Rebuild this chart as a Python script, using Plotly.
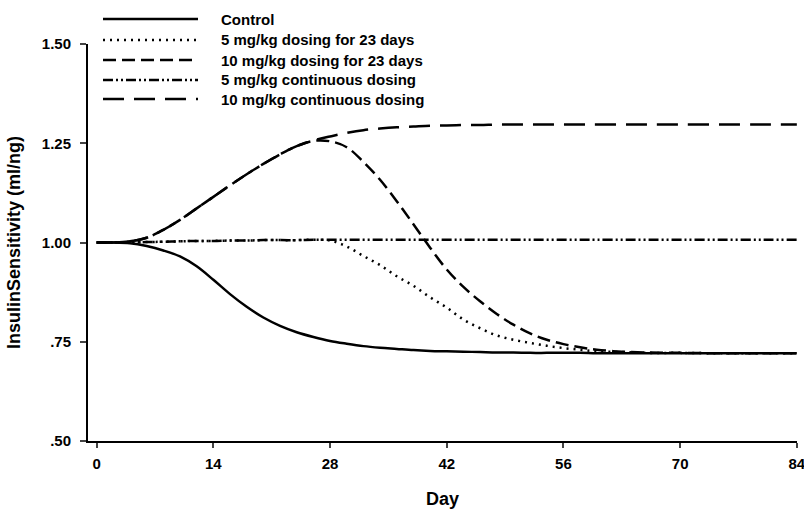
import plotly.graph_objects as go

# ---- data ----
days = [0, 2, 4, 6, 8, 10, 12, 14, 16, 18, 20, 22, 24, 26, 28, 30, 32, 34, 36, 38,
        40, 42, 44, 46, 48, 50, 52, 54, 56, 58, 60, 63, 66, 70, 75, 80, 84]

control = [1.000, 1.000, 0.998, 0.991, 0.980, 0.965, 0.940, 0.906, 0.870, 0.838,
           0.811, 0.790, 0.774, 0.762, 0.752, 0.745, 0.739, 0.735, 0.732, 0.729,
           0.727, 0.726, 0.725, 0.724, 0.723, 0.723, 0.722, 0.722, 0.722, 0.722,
           0.721, 0.721, 0.721, 0.721, 0.721, 0.721, 0.721]

mg5_23d = [1.000, 1.000, 1.000, 1.001, 1.002, 1.003, 1.004, 1.004, 1.005, 1.005,
           1.006, 1.006, 1.006, 1.007, 1.005, 0.990, 0.966, 0.943, 0.915, 0.891,
           0.862, 0.836, 0.806, 0.784, 0.766, 0.755, 0.747, 0.740, 0.734, 0.730,
           0.726, 0.724, 0.722, 0.722, 0.721, 0.721, 0.721]

mg10_23d = [1.000, 1.000, 1.003, 1.012, 1.032, 1.057, 1.086, 1.115, 1.144, 1.172,
            1.198, 1.222, 1.243, 1.256, 1.255, 1.240, 1.203, 1.158, 1.104, 1.046,
            0.987, 0.932, 0.888, 0.852, 0.820, 0.793, 0.771, 0.755, 0.744, 0.736,
            0.730, 0.725, 0.723, 0.722, 0.721, 0.721, 0.721]

mg5_cont = [1.000, 1.000, 1.000, 1.001, 1.002, 1.003, 1.004, 1.004, 1.005, 1.005,
            1.006, 1.006, 1.006, 1.007, 1.007, 1.007, 1.007, 1.007, 1.007, 1.007,
            1.007, 1.007, 1.007, 1.007, 1.007, 1.007, 1.007, 1.007, 1.007, 1.007,
            1.007, 1.007, 1.007, 1.007, 1.007, 1.007, 1.007]

mg10_cont = [1.000, 1.000, 1.003, 1.012, 1.032, 1.057, 1.086, 1.115, 1.144, 1.172,
             1.198, 1.222, 1.243, 1.257, 1.267, 1.276, 1.283, 1.287, 1.290, 1.292,
             1.294, 1.295, 1.296, 1.296, 1.297, 1.297, 1.297, 1.297, 1.297, 1.297,
             1.297, 1.297, 1.297, 1.297, 1.297, 1.297, 1.297]

series_names = ["Control", "5 mg/kg dosing for 23 days", "10 mg/kg dosing for 23 days",
                "5 mg/kg continuous dosing", "10 mg/kg continuous dosing"]
series_values = [control, mg5_23d, mg10_23d, mg5_cont, mg10_cont]

x_ticks = [0, 14, 28, 42, 56, 70, 84]
y_ticks = [0.50, 0.75, 1.00, 1.25, 1.50]
y_tick_labels = [".50", ".75", "1.00", "1.25", "1.50"]

# ---- styles ----
dashes = ["solid", "2px,5px", "13px,6px", "10px,3px,2px,3px,2px,3px", "21px,10px"]
FONT = "Liberation Sans, Arial, sans-serif"

fig = go.Figure()
for name, vals, dash in zip(series_names, series_values, dashes):
    fig.add_trace(go.Scatter(x=days, y=vals, mode="lines", name=name,
                             line=dict(color="black", width=2.5, dash=dash, shape="spline"),
                             showlegend=False))

# target plot-area geometry in page pixels (page body margin removed below)
FW, FH = 804, 510
L, R, T, B = 88, 797, 44, 441
W, H = R - L, B - T

def px(x):
    return (x - L) / W

def py(y):
    return (B - y) / H

shapes = []
annotations = []
rows = [19, 40, 60, 80, 99]
for name, dash, ry in zip(series_names, dashes, rows):
    shapes.append(dict(type="line", xref="paper", yref="paper",
                       x0=px(103), x1=px(198), y0=py(ry), y1=py(ry),
                       line=dict(color="black", width=2.5, dash=dash)))
    annotations.append(dict(xref="paper", yref="paper", x=px(219), y=py(ry),
                            text=name, showarrow=False, xanchor="left", yanchor="middle",
                            font=dict(family=FONT, size=15, color="black", weight="bold")))

fig.update_layout(
    width=FW, height=FH,
    margin=dict(l=L, r=FW - R, t=T, b=FH - B, autoexpand=False),
    plot_bgcolor="white", paper_bgcolor="white",
    font=dict(family=FONT, size=15, color="black", weight="bold"),
    shapes=shapes, annotations=annotations,
    xaxis=dict(range=[-1.04, 84.02], tickvals=x_ticks, ticks="outside", ticklen=5,
               tickwidth=2, showline=True, linewidth=2, linecolor="black",
               showgrid=False, zeroline=False, ticklabelstandoff=3,
               ticklabeloverflow="allow",
               tickfont=dict(family=FONT, size=15, weight="bold"),
               title=dict(text="Day", font=dict(family=FONT, size=18, weight="bold"),
                          standoff=21)),
    yaxis=dict(range=[0.5, 1.5], tickvals=y_ticks, ticktext=y_tick_labels,
               ticks="outside", ticklen=6, tickwidth=2, showline=True, linewidth=2,
               linecolor="black", showgrid=False, zeroline=False, ticklabelstandoff=6,
               tickfont=dict(family=FONT, size=15, weight="bold"),
               title=dict(text="InsulinSensitivity (ml/ng)",
                          font=dict(family=FONT, size=18, weight="bold"), standoff=16)),
)

fig.write_html("out.html", config={"displayModeBar": False},
               post_script="document.body.style.margin='0';document.body.style.overflow='hidden';")
